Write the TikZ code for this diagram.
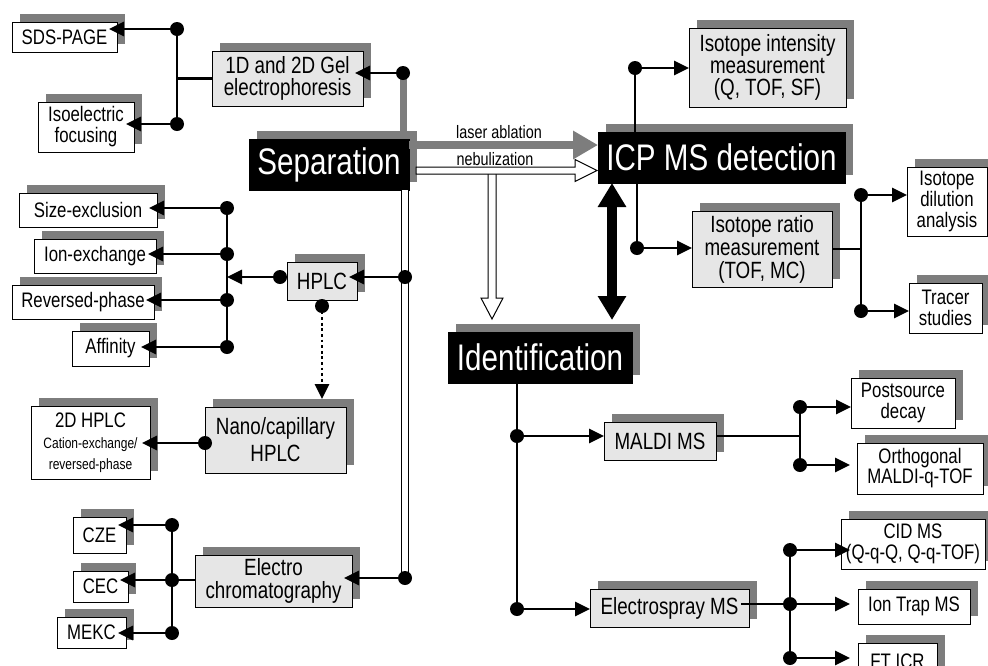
\documentclass[tikz,border=0pt]{standalone}
\usepackage{fontspec}
\setmainfont{Liberation Sans}[FakeStretch=0.8]
\usetikzlibrary{arrows.meta,shadows}
\definecolor{sgray}{HTML}{7D7D7D}
\definecolor{midfill}{HTML}{E6E6E6}
\newcommand\bx[7]{\node[#1,anchor=north west,minimum width={#5pt-#3pt},minimum height={#6pt-#4pt}] (#2) at (#3,#4) {#7};}
\newcommand\dt[1]{\fill (#1) circle[radius=7];}
\tikzset{
  base/.style={draw=black, line width=1pt, inner sep=0pt, outer sep=0pt, align=center,
    drop shadow={shadow xshift=8pt, shadow yshift=8pt, fill=sgray, opacity=1}},
  leafbox/.style={base, fill=white, font=\fontsize{21}{21}\selectfont},
  midbox/.style={base, fill=midfill, font=\fontsize{23.5}{22}\selectfont},
  topbox/.style={base, fill=black, text=white, font=\fontsize{37}{40}\selectfont},
  lbl/.style={inner sep=0pt, font=\fontsize{18}{20}\selectfont},
  conn/.style={line width=2.9pt},
  arr/.style={conn, -{Triangle[length=15pt,width=14pt]}},
  hollow/.style={fill=white, draw=black, line width=1pt},
}
\begin{document}
\begin{tikzpicture}[x=1pt,y=-1pt]
\path[use as bounding box] (0,0) rectangle (988,665);
\clip (0,0) rectangle (988,665);
% ---------- boxes ----------
\bx{leafbox}{sds}{12}{22}{117}{52}{SDS-PAGE}
\bx{leafbox}{iso}{38}{102}{134}{152}{Isoelectric\\focusing}
\bx{midbox}{gel}{212}{51}{363}{106}{1D and 2D Gel\\electrophoresis}
\bx{topbox}{sep}{249}{139}{409}{190}{Separation}
\bx{leafbox}{sizeex}{19}{193}{157}{227}{Size-exclusion}
\bx{leafbox}{ionex}{34}{239}{156}{273}{Ion-exchange}
\bx{leafbox}{rev}{12}{285}{154}{319}{Reversed-phase}
\bx{leafbox}{aff}{72}{331}{149}{366}{Affinity}
\bx{midbox}{hplc}{287}{262}{357}{300}{HPLC}
\bx{leafbox}{hplctwo}{31}{406}{150}{479}{2D HPLC\\{\fontsize{15}{17}\selectfont Cation-exchange/}\\{\fontsize{15}{17}\selectfont reversed-phase}}
\bx{midbox, font=\fontsize{23.5}{27}\selectfont}{nano}{205}{407}{346}{473}{Nano/capillary\\HPLC}
\bx{midbox, font=\fontsize{23.5}{22.5}\selectfont}{electro}{195}{555}{352}{607}{Electro\\chromatography}
\bx{leafbox}{cze}{73}{517}{126}{553}{CZE}
\bx{leafbox}{cec}{73}{571}{128}{602}{CEC}
\bx{leafbox}{mekc}{57}{617}{126}{648}{MEKC}
\bx{topbox}{icp}{598}{132}{845}{183}{ICP MS detection}
\bx{midbox}{isoint}{689}{28}{846}{107}{Isotope intensity\\measurement\\(Q, TOF, SF)}
\bx{midbox, font=\fontsize{23.5}{23}\selectfont}{isorat}{692}{211}{832}{287}{Isotope ratio\\measurement\\(TOF, MC)}
\bx{leafbox}{isodil}{907}{167}{987}{236}{Isotope\\dilution\\analysis}
\bx{leafbox}{tracer}{909}{283}{982}{333}{Tracer\\studies}
\bx{topbox}{ident}{448}{332}{632}{383}{Identification}
\bx{midbox}{maldi}{604}{422}{716}{460}{MALDI MS}
\bx{midbox}{esi}{590}{589}{749}{627}{Electrospray MS}
\bx{leafbox}{psd}{851}{378}{955}{428}{Postsource\\decay}
\bx{leafbox, font=\fontsize{21}{20}\selectfont}{ortho}{857}{443}{983}{494}{Orthogonal\\MALDI-q-TOF}
\bx{leafbox}{cid}{841}{519}{985}{569}{CID MS\\(Q-q-Q, Q-q-TOF)}
\bx{leafbox}{trap}{858}{589}{970}{624}{Ion Trap MS}
\bx{leafbox}{fticr}{858}{643}{937}{680}{FT ICR}
% ---------- coordinates ----------
\coordinate (gA) at (177,29);
\coordinate (gB) at (177,124);
\coordinate (gD) at (403,73);
\coordinate (h1) at (227,208);
\coordinate (h2) at (227,254);
\coordinate (h3) at (227,300);
\coordinate (h4) at (227,347);
\coordinate (hL) at (280,277);
\coordinate (hR) at (405,277);
\coordinate (hB) at (322,306);
\coordinate (nL) at (205,443);
\coordinate (eR) at (405,578);
\coordinate (e1) at (172,525);
\coordinate (e2) at (172,580);
\coordinate (e3) at (172,633);
\coordinate (la) at (409,145);
\coordinate (ba) at (612,320);
\coordinate (iU) at (635,68);
\coordinate (iL) at (637,248);
\coordinate (rM) at (861,249);
\coordinate (r1) at (861,195);
\coordinate (r2) at (861,311);
\coordinate (m0) at (517,436);
\coordinate (s0) at (517,609);
\coordinate (mM) at (800,436);
\coordinate (p1) at (800,407);
\coordinate (p2) at (800,465);
\coordinate (eM) at (790,604);
\coordinate (c1) at (790,550);
\coordinate (c3) at (790,658);
% ---------- gel group ----------
\draw[conn] (gA) -- (gB);
\draw[conn] (gel.west) -- (gel.west -| gA);
\draw[arr, shorten >=-8pt] (gA) -- (gA -| sds.east);
\draw[arr, shorten >=-8pt] (gB) -- (gB -| iso.east);
\draw[arr, shorten >=-8pt] (gD) -- (gD -| gel.east);
\draw[sgray, line width=7pt, shorten >=8pt] (gD) -- (gD |- sep.north);
% ---------- HPLC group ----------
\draw[conn] (h1) -- (h4);
\draw[arr, shorten >=-8pt] (h1) -- (h1 -| sizeex.east);
\draw[arr, shorten >=-8pt] (h2) -- (h2 -| ionex.east);
\draw[arr, shorten >=-8pt] (h3) -- (h3 -| rev.east);
\draw[arr, shorten >=-8pt] (h4) -- (h4 -| aff.east);
\draw[arr] (hL) -- (hL -| h1);
\draw[arr, shorten >=-8pt] (hR) -- (hR -| hplc.east);
\draw[line width=2.8pt, dash pattern=on 2.8pt off 2.8pt, -{Triangle[length=15pt,width=14pt]}, shorten >=8pt] (hB) -- (hB |- nano.north);
\draw[arr, shorten >=-8pt] (nL) -- (nL -| hplctwo.east);
% ---------- electro group ----------
\draw[conn] (e1) -- (e3);
\draw[conn] (e2) -- (e2 -| electro.west);
\draw[arr, shorten >=-8pt] (eR) -- (eR -| electro.east);
\draw[arr, shorten >=-8pt] (e1) -- (e1 -| cze.east);
\draw[arr, shorten >=-8pt] (e2) -- (e2 -| cec.east);
\draw[arr, shorten >=-8pt] (e3) -- (e3 -| mekc.east);
% ---------- separation outputs ----------
\draw[line width=8pt] (sep.south -| hR) -- (eR);
\draw[white, line width=6pt] (sep.south -| hR) -- (eR);
\draw[sgray, line width=8pt, -{Triangle[length=25pt,width=27pt]}] (la) -- (la -| icp.west);
\node[lbl] (lal) at (499,132) {laser ablation};
\path[hollow] (488,172) -- (488,298) -- (481,298) -- (492,319) -- (503,298) -- (496,298) -- (496,172) -- cycle;
\path[hollow] (416,167) -- (575,167) -- (575,159.5) -- (597,170.5) -- (575,181.5) -- (575,174) -- (416,174) -- cycle;
\node[lbl] (nebl) at (495,159) {nebulization};
\draw[line width=10pt, {Triangle[length=24pt,width=27pt]}-{Triangle[length=24pt,width=27pt]}] (icp.south -| ba) -- (ba);
% ---------- ICP group ----------
\draw[conn] (iU) -- (iU |- icp.north);
\draw[arr] (iU) -- (iU -| isoint.west);
\draw[conn] (icp.south -| iL) -- (iL);
\draw[arr] (iL) -- (iL -| isorat.west);
\draw[conn] (isorat.east) -- (isorat.east -| rM);
\draw[conn] (r1) -- (r2);
\draw[arr] (r1) -- (r1 -| isodil.west);
\draw[arr] (r2) -- (r2 -| tracer.west);
% ---------- identification group ----------
\draw[conn] (ident.south -| m0) -- (s0);
\draw[arr] (m0) -- (m0 -| maldi.west);
\draw[arr] (s0) -- (s0 -| esi.west);
\draw[conn] (mM -| maldi.east) -- (mM);
\draw[conn] (p1) -- (p2);
\draw[arr] (p1) -- (p1 -| psd.west);
\draw[arr, shorten >=7pt] (p2) -- (p2 -| ortho.west);
\draw[conn, shorten <=-8pt] (eM -| esi.east) -- (eM);
\draw[conn] (c1) -- (c3);
\draw[arr, shorten >=-9pt] (c1) -- (c1 -| cid.west);
\draw[arr, shorten >=8pt] (eM) -- (eM -| trap.west);
\draw[arr, shorten >=8pt] (c3) -- (c3 -| fticr.west);
% ---------- dots ----------
\foreach \p in {gA,gB,gD,h1,h2,h3,h4,hL,hR,hB,nL,eR,e1,e2,e3,iU,iL,r1,r2,m0,s0,p1,p2,eM,c1,c3} {\dt{\p}}
\end{tikzpicture}
\end{document}
